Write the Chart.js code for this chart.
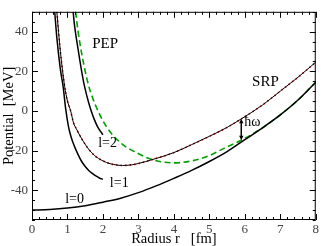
<!DOCTYPE html>
<html><head><meta charset="utf-8">
<script src="https://cdn.jsdelivr.net/npm/chart.js@4.4.1/dist/chart.umd.min.js"></script>
<style>html,body{margin:0;padding:0;background:#fff}#c{display:block}</style>
</head><body>
<canvas id="c" width="321" height="246"></canvas>
<script>
// ---- data ----
const xTicks = [0,1,2,3,4,5,6,7,8];
const yTicks = [-40,-20,0,20,40];

const l0R = [0,0.5,1,1.5,2,2.5,3,3.5,4,4.5,5,5.5,6,6.5,7,7.5,8];
const l0V = [-50,-49.7,-49,-47.8,-46,-44,-41.2,-37.8,-34,-30,-25.5,-20.5,-14.5,-8.5,-2,5.5,14.5];

const l1R = [0.64,0.7,0.8,0.88,0.95,1.03,1.1,1.2,1.3,1.4,1.5,1.6,1.7,1.8,1.9,2.0];
const l1V = [50,37,21,12,1,-8,-13,-18,-22,-25.5,-28,-30,-31.5,-32.8,-33.8,-34.5];

const l2R = [1.16,1.2,1.3,1.4,1.48,1.6,1.67,1.75,1.85,2.0];
const l2V = [50,43,31,20,12.5,4,0,-4,-8,-12];

const srpR = [0.70,0.8,0.92,1.0,1.09,1.17,1.25,1.4,1.62,1.8,2.1,2.3,2.55,2.8,3.0,3.38,4.0,4.5,5.0,5.5,5.9,6.5,7.0,7.5,8.0];
const srpV = [50,30,12.5,5,0,-6,-9,-14,-19.8,-23,-26,-27,-27.5,-27.2,-26.5,-24.6,-21,-17,-12.8,-8.3,-4,3,10,17,24.6];

const pepR = [1.23,1.3,1.4,1.5,1.6,1.7,1.8,1.9,2.0,2.1,2.2,2.32,2.6,2.94,3.3,3.6,4.0,4.5,5.0,5.45,5.9,6.5,7.0,7.5,8.0];
const pepV = [50,40,29,20,12.5,7,2.5,-1.5,-5,-8,-10.5,-13,-17.5,-21,-24,-25.5,-26.2,-25.2,-22.5,-18.5,-14.8,-8.5,-2,5.5,14.5];

const hwR = 5.9, hwTop = -4, hwBottom = -14.8;

const labels = [
  {t:'PEP', r:2.06, v:33.5, size:15},
  {t:'SRP', r:6.58, v:14.5, size:15},
  {t:'l=2', r:2.13, v:-16.5, size:14},
  {t:'l=1', r:2.46, v:-36.6, size:14},
  {t:'l=0', r:1.2, v:-44.8, size:14}
];

const FONT = '"Liberation Serif","Times New Roman",serif';
const pts = (R,V) => R.map((r,i)=>({x:r,y:V[i]}));

const frame = {
  id:'frame',
  afterDraw(chart){
    const ctx = chart.ctx, a = chart.chartArea;
    const xs = chart.scales.x, ys = chart.scales.y;
    ctx.save();
    ctx.strokeStyle = '#000'; ctx.lineWidth = 1;
    ctx.strokeRect(a.left+0.5, a.top+0.5, a.right-a.left-1, a.bottom-a.top-1);
    ctx.beginPath();
    for (let k=0;k<=40;k++){
      const v = k*0.2; const px = Math.round(xs.getPixelForValue(v))+0.5;
      const L = (k%5===0)?6:3;
      ctx.moveTo(px,a.bottom); ctx.lineTo(px,a.bottom-L);
      ctx.moveTo(px,a.top); ctx.lineTo(px,a.top+L);
    }
    for (let v=-55; v<=50; v+=5){
      const py = Math.round(ys.getPixelForValue(v))+0.5;
      const L = (v%20===0)?6:3;
      ctx.moveTo(a.left,py); ctx.lineTo(a.left+L,py);
      ctx.moveTo(a.right,py); ctx.lineTo(a.right-L,py);
    }
    ctx.stroke();
    const ax = xs.getPixelForValue(hwR);
    const y1 = ys.getPixelForValue(hwTop), y2 = ys.getPixelForValue(hwBottom);
    ctx.lineWidth = 1.5;
    ctx.beginPath(); ctx.moveTo(ax,y1+3); ctx.lineTo(ax,y2-3); ctx.stroke();
    ctx.fillStyle='#000';
    ctx.beginPath(); ctx.moveTo(ax,y1); ctx.lineTo(ax-2.2,y1+4.5); ctx.lineTo(ax+2.2,y1+4.5); ctx.closePath(); ctx.fill();
    ctx.beginPath(); ctx.moveTo(ax,y2); ctx.lineTo(ax-2.2,y2-4.5); ctx.lineTo(ax+2.2,y2-4.5); ctx.closePath(); ctx.fill();
    ctx.font = '14px '+FONT; ctx.textAlign='left'; ctx.textBaseline='alphabetic';
    ctx.fillText('ħω', ax+3, y1+7);
    ctx.textAlign='center'; ctx.textBaseline='middle';
    labels.forEach(l=>{
      ctx.font = l.size+'px '+FONT;
      ctx.fillText(l.t, xs.getPixelForValue(l.r), ys.getPixelForValue(l.v));
    });
    ctx.fillStyle='#000';
    ctx.font = '14.5px '+FONT; ctx.textBaseline='alphabetic'; ctx.textAlign='center';
    ctx.fillText('Radius r   [fm]', (a.left+a.right)/2, 243);
    ctx.save();
    ctx.translate(13,(a.top+a.bottom)/2); ctx.rotate(-Math.PI/2);
    ctx.fillText('Potential  [MeV]', 0, 0);
    ctx.restore();
    ctx.restore();
  }
};

const blk = (d)=>({data:d, borderColor:'#000', borderWidth:1.5, pointRadius:0, showLine:true, fill:false, cubicInterpolationMode:'monotone'});

new Chart(document.getElementById('c'), {
  type:'scatter',
  data:{datasets:[
    blk(pts(l0R,l0V)),
    blk(pts(l1R,l1V)),
    blk(pts(l2R,l2V)),
    Object.assign(blk(pts(srpR,srpV)),{borderWidth:1}),
    {data:pts(srpR,srpV), borderColor:'#e00000', borderWidth:1.6, borderDash:[1.5,3], pointRadius:0, showLine:true, fill:false, cubicInterpolationMode:'monotone'},
    {data:pts(pepR,pepV), borderColor:'#00a000', borderWidth:1.6, borderDash:[6,3.5], pointRadius:0, showLine:true, fill:false, cubicInterpolationMode:'monotone'}
  ]},
  options:{
    responsive:false, animation:false, devicePixelRatio:1,
    layout:{padding:{top:2,right:3,left:0,bottom:0}},
    plugins:{legend:{display:false}, tooltip:{enabled:false}},
    scales:{
      x:{type:'linear', min:0, max:8,
        afterBuildTicks(s){ s.ticks = xTicks.map(v=>({value:v})); },
        afterFit(s){ s.height = 26; },
        grid:{display:false, drawTicks:false}, border:{display:false},
        ticks:{padding:2, color:'#444', font:{family:FONT, size:13}, maxRotation:0, autoSkip:false}
      },
      y:{type:'linear', min:-55, max:50,
        afterBuildTicks(s){ s.ticks = yTicks.map(v=>({value:v})); },
        afterFit(s){ s.width = 32; },
        grid:{display:false, drawTicks:false}, border:{display:false},
        ticks:{padding:4, color:'#444', font:{family:FONT, size:13}, autoSkip:false}
      }
    }
  },
  plugins:[frame]
});
</script>
</body></html>
